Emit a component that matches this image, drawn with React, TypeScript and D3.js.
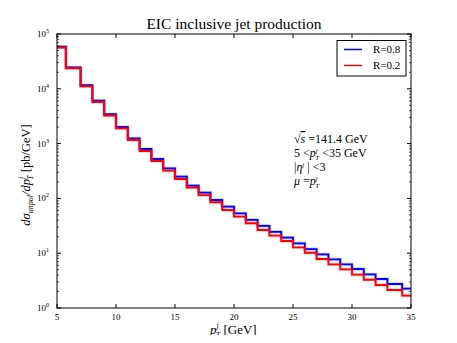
import React, { useEffect, useRef } from "react";
import * as d3 from "d3";

// bin centres (first/last clamped to the range edges)
const pT = [5, 6.5, 7.5, 8.5, 9.5, 10.5, 11.5, 12.5, 13.5, 14.5, 15.5, 16.5, 17.5, 18.5, 19.5,
  20.5, 21.5, 22.5, 23.5, 24.5, 25.5, 26.5, 27.5, 28.5, 29.5, 30.5, 31.5, 32.5, 33.5, 35];
const sigmaR08 = [59000, 24700, 11600, 6070, 3430, 2010, 1250, 797, 524, 354, 249, 171, 127, 93.5, 70.6,
  53.5, 40.4, 31.4, 24.4, 19.2, 15.1, 11.9, 9.55, 7.73, 6.27, 5.15, 4.12, 3.38, 2.74, 2.25];
const sigmaR02 = [56700, 23700, 11100, 5740, 3230, 1900, 1164, 733, 481, 320, 226, 157, 115, 85, 61.4,
  46.4, 35.2, 26.5, 20.9, 16.7, 12.8, 10.2, 7.83, 6.27, 5.08, 4.05, 3.28, 2.63, 2.13, 1.68];
const seriesNames = ["R=0.8", "R=0.2"];
const seriesColors = ["#0000ff", "#ff0000"];
const xTicks = [5, 10, 15, 20, 25, 30, 35];
const yExponents = [0, 1, 2, 3, 4, 5];

const W = 457;
const H = 343;
const serif = "'Liberation Serif', 'Times New Roman', serif";

const Chart = () => {
  const ref = useRef(null);

  useEffect(() => {
    const svg = d3.select(ref.current);
    svg.selectAll("*").remove();

    const margin = { top: 34, right: 46, bottom: 35, left: 57 };
    const x0 = margin.left, x1 = W - margin.right;
    const y0 = H - margin.bottom, y1 = margin.top;

    const xScale = d3.scaleLinear().domain([5, 35]).range([x0, x1]);
    const yScale = d3.scaleLog().domain([1, 1e5]).range([y0, y1]);

    const g = svg.append("g");

    // data lines
    const line = d3.line()
      .x((d, i) => xScale(pT[i]))
      .y(d => yScale(d))
      .curve(d3.curveStep);

    [sigmaR08, sigmaR02].forEach((data, k) => {
      g.append("path")
        .attr("d", line(data))
        .attr("fill", "none")
        .attr("stroke", seriesColors[k])
        .attr("stroke-opacity", 0.22)
        .attr("stroke-width", 3.2);
      g.append("path")
        .attr("d", line(data))
        .attr("fill", "none")
        .attr("stroke", seriesColors[k])
        .attr("stroke-width", 1.8);
    });

    // frame
    g.append("rect")
      .attr("x", x0).attr("y", y1)
      .attr("width", x1 - x0).attr("height", y0 - y1)
      .attr("fill", "none")
      .attr("stroke", "#000")
      .attr("stroke-width", 1);

    // x ticks (bottom + top, inward)
    xTicks.forEach(t => {
      const x = xScale(t);
      g.append("line").attr("x1", x).attr("x2", x).attr("y1", y0).attr("y2", y0 - 4).attr("stroke", "#000");
      g.append("line").attr("x1", x).attr("x2", x).attr("y1", y1).attr("y2", y1 + 4).attr("stroke", "#000");
      g.append("text")
        .attr("x", x).attr("y", y0 + 11.5)
        .attr("text-anchor", "middle")
        .attr("font-family", serif)
        .attr("font-size", 9)
        .text(t);
    });

    // y ticks: majors and minors on both sides
    yExponents.forEach(e => {
      const y = yScale(Math.pow(10, e));
      g.append("line").attr("x1", x0).attr("x2", x0 + 4).attr("y1", y).attr("y2", y).attr("stroke", "#000");
      g.append("line").attr("x1", x1).attr("x2", x1 - 4).attr("y1", y).attr("y2", y).attr("stroke", "#000");
      const lab = g.append("text")
        .attr("x", x0 - 8).attr("y", y + 3)
        .attr("text-anchor", "end")
        .attr("font-family", serif)
        .attr("font-size", 9);
      lab.append("tspan").text("10");
      lab.append("tspan").attr("dy", -4).attr("font-size", 6).text(e);
      if (e < 5) {
        for (let m = 2; m <= 9; m++) {
          const ym = yScale(m * Math.pow(10, e));
          g.append("line").attr("x1", x0).attr("x2", x0 + 2).attr("y1", ym).attr("y2", ym).attr("stroke", "#000").attr("stroke-width", 0.7);
          g.append("line").attr("x1", x1).attr("x2", x1 - 2).attr("y1", ym).attr("y2", ym).attr("stroke", "#000").attr("stroke-width", 0.7);
        }
      }
    });

    // title
    g.append("text")
      .attr("x", (x0 + x1) / 2).attr("y", 29)
      .attr("text-anchor", "middle")
      .attr("font-family", serif)
      .attr("font-size", 15.5)
      .text("EIC inclusive jet production");

    // x label
    const xl = g.append("text")
      .attr("x", 210).attr("y", 334)
      .attr("font-family", serif)
      .attr("font-size", 13);
    xl.append("tspan").attr("font-style", "italic").text("p");
    xl.append("tspan").attr("font-style", "italic").attr("font-size", 8).attr("dy", -6.5).text("j");
    xl.append("tspan").attr("font-style", "italic").attr("font-size", 8).attr("dx", -3).attr("dy", 10).text("T");
    xl.append("tspan").attr("dy", -3.5).text(" [GeV]");

    // y label
    const yl = g.append("text")
      .attr("transform", `translate(30, ${(y0 + y1) / 2 + 4}) rotate(-90)`)
      .attr("text-anchor", "middle")
      .attr("font-family", serif)
      .attr("font-size", 12.5);
    yl.append("tspan").attr("font-style", "italic").text("dσ");
    yl.append("tspan").attr("font-style", "italic").attr("font-size", 8).attr("dy", 3).text("unpol");
    yl.append("tspan").attr("font-style", "italic").attr("dy", -3).text("/dp");
    yl.append("tspan").attr("font-style", "italic").attr("font-size", 8).attr("dy", -6).text("j");
    yl.append("tspan").attr("font-style", "italic").attr("font-size", 8).attr("dx", -3).attr("dy", 9).text("T");
    yl.append("tspan").attr("dy", -3).text("  [pb/GeV]");

    // legend
    const lg = g.append("g");
    lg.append("rect")
      .attr("x", 337).attr("y", 40.5)
      .attr("width", 69).attr("height", 35.5)
      .attr("fill", "#fff")
      .attr("stroke", "#000");
    seriesNames.forEach((name, i) => {
      const y = 49.5 + i * 16;
      lg.append("line").attr("x1", 344).attr("x2", 362).attr("y1", y).attr("y2", y)
        .attr("stroke", seriesColors[i]).attr("stroke-width", 1.5);
      lg.append("text")
        .attr("x", 373).attr("y", y + 3.8)
        .attr("font-family", serif)
        .attr("font-size", 11)
        .text(name);
    });

    // annotation
    const ax = 294;
    const fs = 12;
    const t1 = g.append("text").attr("x", ax).attr("y", 143).attr("font-family", serif).attr("font-size", fs);
    t1.append("tspan").text("√");
    t1.append("tspan").attr("font-style", "italic").attr("text-decoration", "overline").text("s");
    t1.append("tspan").text(" =141.4 GeV");

    const t2 = g.append("text").attr("x", ax).attr("y", 157).attr("font-family", serif).attr("font-size", fs);
    t2.append("tspan").text("5 <");
    t2.append("tspan").attr("font-style", "italic").text("p");
    t2.append("tspan").attr("font-style", "italic").attr("font-size", 7).attr("dy", -4.5).text("j");
    t2.append("tspan").attr("font-style", "italic").attr("font-size", 7).attr("dx", -2.5).attr("dy", 7).text("T");
    t2.append("tspan").attr("dy", -2.5).text(" <35 GeV");

    const t3 = g.append("text").attr("x", ax).attr("y", 171).attr("font-family", serif).attr("font-size", fs);
    t3.append("tspan").text("|");
    t3.append("tspan").attr("font-style", "italic").text("η");
    t3.append("tspan").attr("font-style", "italic").attr("font-size", 7).attr("dy", -4).text("j");
    t3.append("tspan").attr("dy", 4).text(" | <3");

    const t4 = g.append("text").attr("x", ax).attr("y", 185).attr("font-family", serif).attr("font-size", fs);
    t4.append("tspan").attr("font-style", "italic").text("μ");
    t4.append("tspan").text(" =");
    t4.append("tspan").attr("font-style", "italic").text("p");
    t4.append("tspan").attr("font-style", "italic").attr("font-size", 7).attr("dy", -4.5).text("j");
    t4.append("tspan").attr("font-style", "italic").attr("font-size", 7).attr("dx", -2.5).attr("dy", 7).text("T");
  }, []);

  return <svg ref={ref} width={W} height={H} style={{ display: "block", background: "#fff" }} />;
};

export default function App() {
  return (
    <div style={{ margin: -8 }}>
      <Chart />
    </div>
  );
}
